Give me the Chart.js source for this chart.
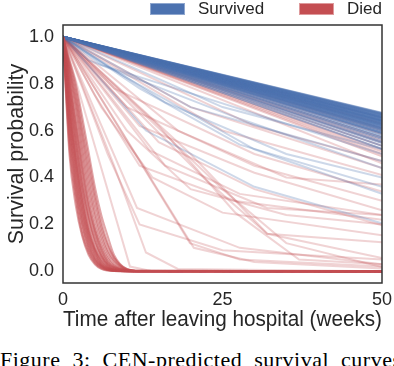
<!DOCTYPE html>
<html>
<head>
<meta charset="utf-8">
<script src="https://cdn.jsdelivr.net/npm/chart.js@4.4.1/dist/chart.umd.min.js"></script>
<style>
  body { margin: 0; background: #fff; }
  #wrap { position: relative; width: 394px; height: 366px; overflow: hidden; font-family: "Liberation Sans", Arial, sans-serif; }
  #plot { position: absolute; left: 0; top: 0; width: 394px; height: 340px; }
  .key { position: absolute; top: 3px; width: 35px; height: 12px; box-sizing: border-box; }
  .key-label { position: absolute; top: -1px; font-size: 17px; line-height: 20px; color: #262626; }
  #caption { position: absolute; left: 0; top: 349px; font-family: "Liberation Serif", serif; font-size: 22px; line-height: 22px; white-space: nowrap; color: #000; word-spacing: 6px; letter-spacing: 0.5px; }
</style>
</head>
<body>
<div id="wrap">
  <div id="plot"><canvas id="chart"></canvas></div>
  <div class="key" style="left:150px;background:#4c72b0;border:1px solid #8fa7cf;"></div>
  <div class="key-label" style="left:198px;">Survived</div>
  <div class="key" style="left:299px;background:#c44e52;border:1px solid #de9a9c;"></div>
  <div class="key-label" style="left:347px;">Died</div>
  <div id="caption">Figure 3: CEN-predicted survival curves for</div>
</div>
<script>
"use strict";

const WEEK_TICKS = [0, 25, 50];
const PROB_TICKS = [0, 0.2, 0.4, 0.6, 0.8, 1.0];

// patients who died early: survival sampled at these weeks
const FAST_WEEKS = [0, 1, 2, 3, 4, 5, 6, 7, 8, 10, 12, 50];
const DIED_FAST = [
  [1, 0.50, 0.28, 0.15, 0.07, 0.03, 0.01, 0.003, 0.001, 0, 0, 0],
  [1, 0.53, 0.31, 0.16, 0.08, 0.035, 0.012, 0.004, 0.001, 0, 0, 0],
  [1, 0.56, 0.33, 0.18, 0.09, 0.04, 0.015, 0.005, 0.002, 0, 0, 0],
  [1, 0.59, 0.35, 0.20, 0.10, 0.045, 0.018, 0.006, 0.002, 0, 0, 0],
  [1, 0.61, 0.37, 0.21, 0.11, 0.05, 0.02, 0.007, 0.003, 0, 0, 0],
  [1, 0.63, 0.39, 0.23, 0.12, 0.055, 0.022, 0.008, 0.003, 0, 0, 0],
  [1, 0.65, 0.41, 0.24, 0.13, 0.06, 0.025, 0.01, 0.004, 0, 0, 0],
  [1, 0.67, 0.43, 0.26, 0.14, 0.07, 0.028, 0.011, 0.004, 0, 0, 0],
  [1, 0.68, 0.45, 0.27, 0.15, 0.075, 0.03, 0.012, 0.005, 0.001, 0, 0],
  [1, 0.70, 0.47, 0.29, 0.16, 0.085, 0.035, 0.014, 0.005, 0.001, 0, 0],
  [1, 0.71, 0.48, 0.30, 0.17, 0.09, 0.04, 0.016, 0.006, 0.001, 0, 0],
  [1, 0.73, 0.50, 0.32, 0.18, 0.095, 0.045, 0.018, 0.007, 0.001, 0, 0],
  [1, 0.74, 0.52, 0.33, 0.19, 0.10, 0.05, 0.02, 0.008, 0.001, 0, 0],
  [1, 0.76, 0.55, 0.36, 0.22, 0.12, 0.06, 0.025, 0.01, 0.002, 0, 0],
  [1, 0.77, 0.56, 0.37, 0.23, 0.13, 0.065, 0.028, 0.011, 0.002, 0, 0],
  [1, 0.78, 0.58, 0.39, 0.24, 0.14, 0.07, 0.03, 0.013, 0.002, 0, 0],
  [1, 0.80, 0.61, 0.42, 0.27, 0.16, 0.08, 0.035, 0.016, 0.003, 0, 0],
  [1, 0.81, 0.62, 0.44, 0.28, 0.17, 0.09, 0.04, 0.018, 0.003, 0, 0],
  [1, 0.82, 0.64, 0.46, 0.30, 0.18, 0.10, 0.045, 0.02, 0.003, 0.001, 0],
  [1, 0.84, 0.67, 0.49, 0.33, 0.20, 0.11, 0.055, 0.025, 0.004, 0.001, 0],
  [1, 0.85, 0.70, 0.52, 0.36, 0.23, 0.13, 0.065, 0.03, 0.005, 0.001, 0],
  [1, 0.86, 0.72, 0.55, 0.39, 0.25, 0.15, 0.08, 0.04, 0.006, 0.001, 0],
  [1, 0.87, 0.74, 0.58, 0.42, 0.28, 0.17, 0.09, 0.045, 0.007, 0.001, 0],
  [1, 0.88, 0.76, 0.60, 0.45, 0.31, 0.19, 0.11, 0.055, 0.008, 0.002, 0],
  [1, 0.89, 0.78, 0.63, 0.48, 0.33, 0.21, 0.12, 0.06, 0.01, 0.002, 0],
  [1, 0.90, 0.80, 0.66, 0.51, 0.36, 0.24, 0.15, 0.07, 0.01, 0.002, 0],
];

// survivors: straight curves from 1.0 at week 0 to these values at week 50
const SURVIVED_ENDS = [
  0.676, 0.674, 0.671, 0.669, 0.667, 0.665, 0.663, 0.660, 0.658, 0.657,
  0.655, 0.653, 0.651, 0.649, 0.646, 0.644, 0.643, 0.641, 0.639, 0.637,
  0.634, 0.632, 0.630, 0.628, 0.625, 0.623, 0.621, 0.618, 0.615, 0.613,
  0.610, 0.607, 0.604, 0.601, 0.596, 0.592, 0.589, 0.585, 0.577, 0.570,
  0.564, 0.553, 0.547, 0.535, 0.522,
];

// survivors whose curves bend (week, probability)
const SURVIVED_BENT = [
  [[0, 1], [4, 0.9], [27.7, 0.65], [50, 0.44]],
  [[0, 1], [12, 0.78], [27.7, 0.54], [50, 0.36]],
  [[0, 1], [13, 0.6], [30, 0.36], [50, 0.205]],
  [[0, 1], [9, 0.84], [30, 0.52], [50, 0.33]],
  [[0, 1], [20, 0.7], [50, 0.47]],
  [[0, 1], [6, 0.88], [50, 0.50]],
  [[0, 1], [25, 0.7], [50, 0.52]],
  [[0, 1], [16, 0.72], [35, 0.5], [50, 0.40]],
];

// died, but predicted close to the survivors
const DIED_ENDS = [0.63, 0.61, 0.60, 0.585, 0.57, 0.56, 0.55, 0.535, 0.52, 0.51, 0.50, 0.49];

// died, slower predicted decline (week, probability)
const DIED_SLOW = [
  [[0, 1], [11.6, 0.27], [27.7, 0.10], [50, 0.03]],
  [[0, 1], [19.9, 0.12], [27.7, 0.05], [50, 0.02]],
  [[0, 1], [20.5, 0.10], [30, 0.04], [50, 0.012]],
  [[0, 1], [13.6, 0.515], [27.7, 0.33], [50, 0.24]],
  [[0, 1], [10.5, 0.02], [14, 0], [50, 0]],
  [[0, 1], [8, 0.45], [13, 0.08], [18, 0.01], [50, 0]],
  [[0, 1], [15, 0.62], [27, 0.25], [37, 0.05], [50, 0.03]],
  [[0, 1], [20, 0.5], [32, 0.16], [50, 0.124]],
  [[0, 1], [22, 0.4], [32, 0.16], [50, 0.056]],
  [[0, 1], [25, 0.35], [35, 0.12], [50, 0.018]],
  [[0, 1], [15, 0.55], [30, 0.35], [50, 0.196]],
  [[0, 1], [12, 0.62], [30, 0.42], [50, 0.26]],
  [[0, 1], [10, 0.7], [30, 0.45], [50, 0.30]],
  [[0, 1], [8, 0.78], [30, 0.5], [50, 0.34]],
  [[0, 1], [18, 0.6], [35, 0.4], [50, 0.37]],
  [[0, 1], [25, 0.6], [50, 0.41]],
  [[0, 1], [6, 0.7], [14, 0.4], [25, 0.25], [50, 0.154]],
  [[0, 1], [10, 0.6], [20, 0.35], [35, 0.24], [50, 0.2]],
  [[0, 1], [5, 0.75], [12, 0.45], [27, 0.3], [50, 0.22]],
  [[0, 1], [16, 0.45], [32, 0.27], [50, 0.24]],
  [[0, 1], [7, 0.5], [12, 0.2], [25, 0.09], [50, 0.05]],
  [[0, 1], [50, 0.46]],
  [[0, 1], [30, 0.62], [50, 0.47]],
  [[0, 1], [20, 0.7], [50, 0.44]],
];

const BLUE = "rgba(76,114,176,0.5)";
const BLUE_PALE = "rgba(76,114,176,0.28)";
const RED = "rgba(196,78,82,0.25)";
const RED_MIX = "rgba(196,78,82,0.3)";
const RED_FAST = "rgba(196,78,82,0.5)";
const INK = "#262626";

const $ = (id) => document.getElementById(id);

function line(points, color, smooth) {
  return {
    data: points.map(([x, y]) => ({ x, y })),
    borderColor: color,
    borderWidth: 2,
    pointRadius: 0,
    fill: false,
    tension: 0,
    cubicInterpolationMode: smooth ? "monotone" : "default",
  };
}

// listed bottom layer first; reversed below because chart.js paints dataset 0 last
const layers = [];
DIED_SLOW.forEach((p) => layers.push(line(p, RED)));
DIED_ENDS.forEach((v) => layers.push(line([[0, 1], [50, v]], RED_MIX)));
SURVIVED_BENT.forEach((p) => layers.push(line(p, BLUE_PALE)));
SURVIVED_ENDS.forEach((v) => layers.push(line([[0, 1], [50, v]], BLUE)));
DIED_FAST.forEach((row) => layers.push(line(row.map((v, i) => [FAST_WEEKS[i], v]), RED_FAST, true)));

const frame = {
  id: "frame",
  afterDatasetsDraw(chart) {
    const { ctx, chartArea: a } = chart;
    ctx.save();
    ctx.strokeStyle = "#333";
    ctx.lineWidth = 1.5;
    ctx.strokeRect(a.left, a.top, a.right - a.left, a.bottom - a.top);
    ctx.restore();
  },
};

new Chart($("chart"), {
  type: "line",
  data: { datasets: layers.reverse() },
  plugins: [frame],
  options: {
    responsive: true,
    maintainAspectRatio: false,
    animation: false,
    parsing: false,
    normalized: true,
    layout: { padding: { top: 25, right: 12, left: 0, bottom: 0 } },
    plugins: { legend: { display: false }, tooltip: { enabled: false } },
    scales: {
      x: {
        type: "linear",
        min: 0,
        max: 50,
        grid: { display: false },
        border: { display: false },
        afterBuildTicks: (s) => { s.ticks = WEEK_TICKS.map((v) => ({ value: v })); },
        afterFit: (s) => { s.height = 57; },
        ticks: { color: INK, font: { family: "Liberation Sans", size: 18 }, padding: -2, maxRotation: 0, callback: (v) => String(v) },
        title: { display: true, text: "Time after leaving hospital (weeks)", color: INK, font: { family: "Liberation Sans", size: 21.5 }, padding: { top: 0, bottom: 7 } },
      },
      y: {
        type: "linear",
        min: -0.05,
        max: 1.05,
        grid: { display: false },
        border: { display: false },
        afterBuildTicks: (s) => { s.ticks = PROB_TICKS.map((v) => ({ value: v })); },
        afterFit: (s) => { s.width = 63; },
        ticks: { color: INK, font: { family: "Liberation Sans", size: 18 }, padding: 1, callback: (v) => v.toFixed(1) },
        title: { display: true, text: "Survival probability", color: INK, font: { family: "Liberation Sans", size: 21.5 }, padding: { top: 4, bottom: 0 } },
      },
    },
  },
});
</script>
</body>
</html>
